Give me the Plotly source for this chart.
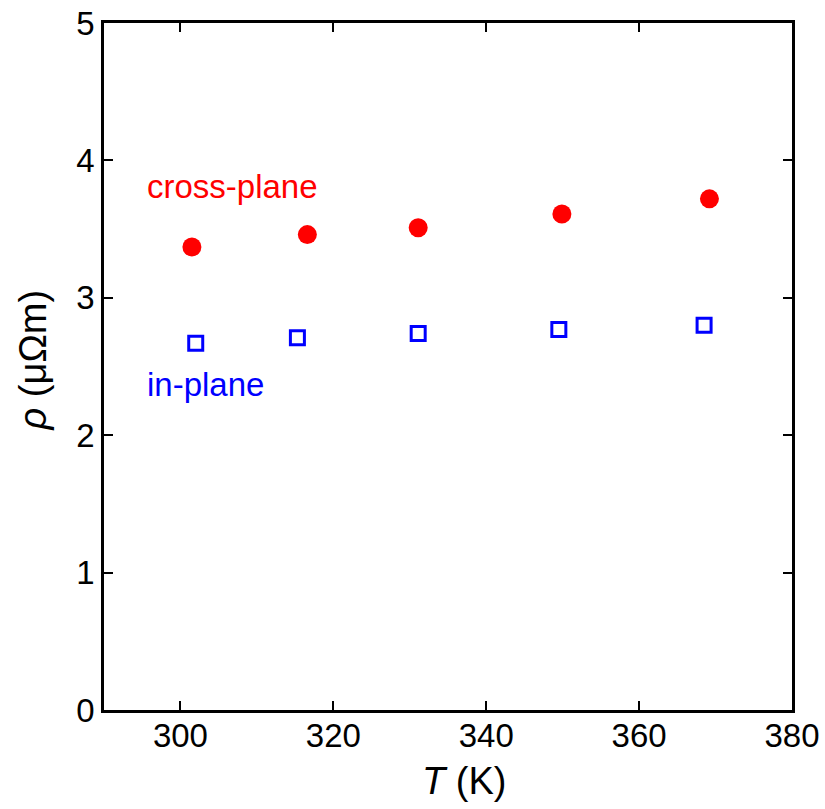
import plotly.graph_objects as go

# Resistivity vs temperature
t_cross = [301.5, 316.6, 331.1, 349.9, 369.2]
rho_cross = [3.37, 3.46, 3.51, 3.61, 3.72]

t_in = [302.0, 315.3, 331.1, 349.5, 368.5]
rho_in = [2.67, 2.71, 2.74, 2.77, 2.80]

x_ticks = [300, 320, 340, 360, 380]
y_ticks = [0, 1, 2, 3, 4, 5]

FONT = "Liberation Sans, Arial, sans-serif"

fig = go.Figure()
fig.add_trace(go.Scatter(
    x=t_cross, y=rho_cross, mode="markers", name="cross-plane",
    marker=dict(symbol="circle", size=19, color="#ff0000", line=dict(width=0)),
))
fig.add_trace(go.Scatter(
    x=t_in, y=rho_in, mode="markers", name="in-plane",
    marker=dict(symbol="square-open", size=14, color="#0000ff",
                line=dict(width=3, color="#0000ff")),
))

axis_common = dict(
    showgrid=False, zeroline=False, automargin=False,
    showline=True, linecolor="black", linewidth=2.5, mirror="allticks",
    ticks="inside", ticklen=9, tickwidth=2.2, tickcolor="black",
    tickfont=dict(family=FONT, size=33, color="black"),
)

fig.update_xaxes(range=[290, 380], tickvals=x_ticks, ticklabelstandoff=-5,
                 **axis_common)
fig.update_yaxes(range=[0, 5], tickvals=y_ticks, **axis_common)

fig.add_annotation(x=295.4, y=3.81, xref="x", yref="y", text="cross-plane",
                   showarrow=False, xanchor="left", yanchor="middle",
                   font=dict(family=FONT, size=33, color="#ff0000"))
fig.add_annotation(x=295.4, y=2.37, xref="x", yref="y", text="in-plane",
                   showarrow=False, xanchor="left", yanchor="middle",
                   font=dict(family=FONT, size=33, color="#0000ff"))

fig.add_annotation(x=0.523, y=-0.103, xref="paper", yref="paper",
                   text="<i>T</i> (K)", showarrow=False,
                   xanchor="center", yanchor="middle",
                   font=dict(family=FONT, size=38, color="black"))
fig.add_annotation(x=-0.103, y=0.509, xref="paper", yref="paper",
                   text="<i>ρ</i> (μΩm)", showarrow=False, textangle=-90,
                   xanchor="center", yanchor="middle",
                   font=dict(family=FONT, size=38, color="black"))

fig.update_layout(
    width=825, height=809,
    margin=dict(l=104, r=33, t=23, b=99),
    paper_bgcolor="white", plot_bgcolor="white",
    showlegend=False,
)

fig.write_html("out.html")
